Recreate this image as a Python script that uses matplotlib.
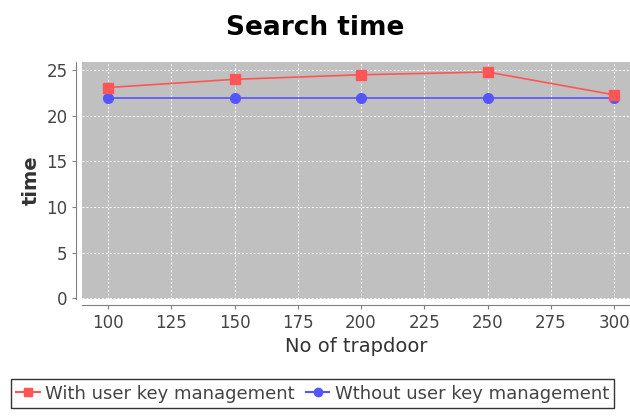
import matplotlib
matplotlib.use("Agg")
import matplotlib.pyplot as plt
from matplotlib.lines import Line2D

x = [100, 150, 200, 250, 300]
with_key = [23.1, 24.0, 24.5, 24.8, 22.3]
without_key = [22.0, 22.0, 22.0, 22.0, 22.0]
xticks = [100, 125, 150, 175, 200, 225, 250, 275, 300]
yticks = [0, 5, 10, 15, 20, 25]

fig = plt.figure(figsize=(6.3, 4.17), dpi=100)
ax = fig.add_axes([82/630, 1-299/417, (630-82)/630, (299-62)/417])
ax.set_facecolor('#c0c0c0')
ax.plot(x, without_key, color='#5555ff', marker='o', markersize=7, linewidth=1.2, zorder=3)
ax.plot(x, with_key, color='#ff5555', marker='s', markersize=7, linewidth=1.2, zorder=4)
ax.set_xlim(89.7, 306.3)
ax.set_ylim(-0.1, 25.9)
ax.set_xticks(xticks)
ax.set_yticks(yticks)
ax.grid(True, color='white', linestyle=(0, (2, 2)), linewidth=0.7)
ax.set_axisbelow(True)
for s in ['top', 'right']:
    ax.spines[s].set_visible(False)
ax.spines['left'].set_position(('outward', 4))
ax.spines['bottom'].set_position(('outward', 4))
ax.spines['left'].set_color('#808080')
ax.spines['bottom'].set_color('#808080')
ax.tick_params(colors='#808080', labelcolor='#444444', labelsize=12, length=3)
ax.set_xlabel('No of trapdoor', fontsize=14, color='#333333')
ax.set_ylabel('time', fontsize=14, color='#333333', fontweight='bold')
fig.text(0.5, 1-28/417, 'Search time', ha='center', va='center', fontsize=19, fontweight='bold')
h = [Line2D([], [], color='#ff5555', marker='s', markersize=6), Line2D([], [], color='#5555ff', marker='o', markersize=6)]
leg = fig.legend(h, ['With user key management', 'Wthout user key management'], loc='lower left',
                 bbox_to_anchor=(2/630, 0.0), ncol=2, fontsize=13, frameon=True, fancybox=False,
                 handlelength=1.3, handletextpad=0.3, columnspacing=0.6, borderpad=0.3)
leg.get_frame().set_edgecolor('black')
for t in leg.get_texts():
    t.set_color('#444444')
fig.savefig('out.png', dpi=100)
